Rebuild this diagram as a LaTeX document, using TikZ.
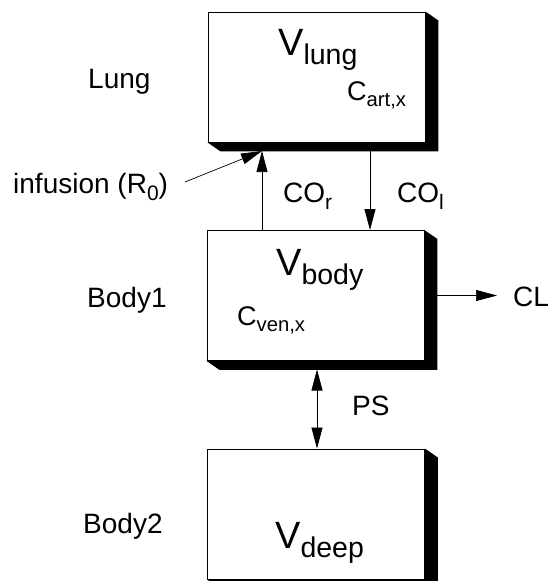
\documentclass[tikz,border=0pt]{standalone}
\usepackage{fontspec}
\setmainfont{Liberation Sans}
\usetikzlibrary{arrows.meta}
\makeatletter
\newcommand{\lsub}[1]{\raisebox{-0.25em}{\fontsize{\dimexpr0.75\dimexpr\f@size pt\relax\relax}{0pt}\selectfont #1}}
\makeatother
\tikzset{
  compbox/.style={draw=black, line width=0.9pt, fill=white, minimum width=217pt, minimum height=130pt, inner sep=0pt},
  shadowfill/.style={fill=black},
  tip/.style={},
  arr/.style={draw=black, line width=0.7pt, -{Triangle[length=21pt,width=11pt]}},
  darr/.style={draw=black, line width=0.7pt, {Triangle[length=21pt,width=11pt]}-{Triangle[length=21pt,width=11pt]}},
  lbl/.style={anchor=base west, inner sep=0pt, font=\fontsize{28}{30}\selectfont},
  slbl/.style={anchor=base west, inner sep=0pt, font=\fontsize{28}{30}\selectfont},
  clbl/.style={anchor=base west, inner sep=0pt, font=\fontsize{27}{30}\selectfont},
  vlbl/.style={anchor=base west, inner sep=0pt, font=\fontsize{38}{42}\selectfont},
}
\newcommand{\shadowof}[1]{%
  \fill[shadowfill] (#1.north east) -- ++(13,9) -- ([shift={(13pt,-9pt)}]#1.south east)
    -- ([shift={(13pt,-9pt)}]#1.south west) -- (#1.south west) -- (#1.south east) -- cycle;}
\begin{document}
\begin{tikzpicture}[x=1pt,y=-1pt]
\useasboundingbox (0,0) rectangle (551,581);
% boxes
\node[compbox] (lung) at (316.5,77) {};
\node[compbox] (body1) at (315.5,295.5) {};
\node[compbox] (body2) at (316,514) {};
\shadowof{lung}
\shadowof{body1}
\shadowof{body2}
% box texts
\node[vlbl] (vlung) at (278,55) {V\lsub{lung}};
\node[clbl] (cart) at (347,100) {C\lsub{art,x}};
\node[vlbl] (vbody) at (276,275) {V\lsub{body}};
\node[clbl] (cven) at (237,325) {C\lsub{ven,x}};
\node[vlbl] (vdeep) at (275,548) {V\lsub{deep}};
% side labels
\node[lbl] (lunglbl) at (88,88) {Lung};
\node[lbl] (b1lbl) at (87,307) {Body1};
\node[lbl] (b2lbl) at (83,533) {Body2};
\node[lbl] (inf) at (13,193) {infusion (R\lsub{0})};
\node[slbl] (cl) at (513,306) {CL};
\node[slbl] (ps) at (352,415) {PS};
\node[slbl] (cor) at (283,202) {CO\lsub{r}};
\node[slbl] (col) at (397,202) {CO\lsub{l}};
% connector ends
\coordinate (lungin) at (262,151);
\coordinate (lungout) at (370,151);
\coordinate (infstart) at (185,182);
\coordinate (clstart) at ([xshift=13pt]body1.east);
\coordinate (clend) at (497,0 |- body1.east);
\coordinate (psstart) at (317,369.5);
% connectors
\draw[arr] (infstart) -- (lungin);
\draw[arr] (body1.north -| lungin) -- (lungin);
\draw[arr] (lungout) -- (body1.north -| lungout);
\draw[arr] (clstart) -- (clend);
\draw[darr] (psstart) -- (body2.north -| psstart);
\end{tikzpicture}
\end{document}
